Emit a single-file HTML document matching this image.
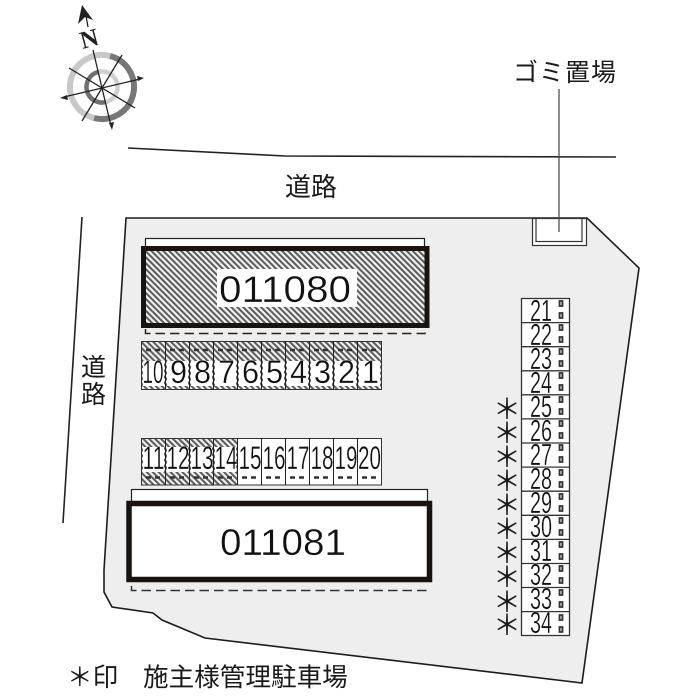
<!DOCTYPE html>
<html><head><meta charset="utf-8"><style>
html,body{margin:0;padding:0;background:#fff}
svg{display:block;filter:blur(.35px)}
.j{font-family:"Liberation Sans","Noto Sans CJK JP",sans-serif;fill:#1a1a1a}
.d{font-family:"Liberation Sans",sans-serif;fill:#111;stroke:#fff;stroke-width:.3}
</style></head><body>
<svg width="700" height="700" viewBox="0 0 700 700" xmlns="http://www.w3.org/2000/svg">
<defs>
<pattern id="h" width="4.2" height="4.2" patternUnits="userSpaceOnUse" patternTransform="rotate(-45)">
<rect width="4.2" height="4.2" fill="#f0f0f0"/><rect width="2" height="4.2" fill="#5a5a5a"/>
</pattern>
</defs>
<rect width="700" height="700" fill="#fff"/>
<!-- site -->
<polygon points="126,218 587,218 639,268 582,683 205,638 162,620 153,613 112,607 104,592 104,570" fill="#eeeeee" stroke="#1c1c1c" stroke-width="1.6"/>
<!-- roads -->
<polyline points="128,148 285,156 616,157" fill="none" stroke="#222" stroke-width="1.6"/>
<line x1="82" y1="217" x2="63" y2="523" stroke="#222" stroke-width="1.6"/>
<!-- garbage -->
<rect x="532.5" y="218.5" width="54" height="27" fill="#fff" stroke="#333" stroke-width="1.2"/>
<rect x="536" y="218.5" width="46" height="23" fill="#fff" stroke="#333" stroke-width="1.2"/>
<line x1="559" y1="89" x2="559" y2="232" stroke="#444" stroke-width="1.2"/>
<text class="j" x="513" y="81" font-size="25" letter-spacing="1">ゴミ置場</text>
<text class="j" x="285" y="196" font-size="26">道路</text>
<text class="j" x="81" y="376" font-size="25">道</text>
<text class="j" x="81" y="403" font-size="25">路</text>
<text class="j" x="67" y="686" font-size="25.6">＊印</text>
<text class="j" x="143" y="686" font-size="25.6">施主様管理駐車場</text>
<!-- compass -->
<g fill="none">
<path d="M110 56A32 32 0 0 1 94 118" stroke="#777" stroke-width="6"/>
<path d="M94 118A32 32 0 0 1 110 56" stroke="#c8c8c8" stroke-width="6"/>
<path d="M98 72A15.500 15.500 0 0 0 106 102" stroke="#707070" stroke-width="4.500"/>
<path d="M106 102A15.500 15.500 0 0 0 98 72" stroke="#d0d0d0" stroke-width="4.500"/>
<g stroke="#222" stroke-width="1.300">
<line x1="93" y1="50" x2="111" y2="126"/>
<line x1="64" y1="97" x2="140" y2="79"/>
<line x1="69" y1="68" x2="135" y2="108"/>
<line x1="82" y1="121" x2="122" y2="55"/>
<line x1="86" y1="16" x2="88" y2="27"/>
</g>
</g>
<polygon points="82,5 93,20 85,17 78,24" fill="#222"/>
<polygon points="112,130 109,123 114,122" fill="#222"/>
<polygon points="144,78 137,76 138,81" fill="#222"/>
<polygon points="60,98 67,95 68,100" fill="#222"/>
<text x="89" y="47" font-family="Liberation Serif,serif" font-weight="bold" font-size="25" fill="#222" text-anchor="middle" transform="rotate(-15 89 38)">N</text>
<!-- building 011080 -->
<rect x="145.5" y="238.5" width="279" height="10" fill="#fff" stroke="#222" stroke-width="1.2"/>
<rect x="143.5" y="248.5" width="283.5" height="77" fill="url(#h)" stroke="#1a1410" stroke-width="5"/>
<rect x="217" y="269" width="140" height="38" fill="#fff"/>
<text class="d" x="219" y="302" font-size="37" textLength="132" lengthAdjust="spacingAndGlyphs">011080</text>
<path d="M145.5 329V333.5H425V329" fill="none" stroke="#222" stroke-width="1.5" stroke-dasharray="9.500 5"/>
<!-- row 1 -->
<rect x="141.5" y="341.5" width="240" height="48" fill="url(#h)" stroke="#333" stroke-width="1"/>
<g fill="#fff">
<rect x="143" y="361" width="21" height="25"/><rect x="167" y="361" width="21" height="25"/><rect x="191" y="361" width="21" height="25"/><rect x="215" y="361" width="21" height="25"/><rect x="239" y="361" width="21" height="25"/><rect x="263" y="361" width="21" height="25"/><rect x="287" y="361" width="21" height="25"/><rect x="311" y="361" width="21" height="25"/><rect x="335" y="361" width="21" height="25"/><rect x="359" y="361" width="21" height="25"/>
</g>
<path d="M165.5 341V390M189.5 341V390M213.5 341V390M237.5 341V390M261.5 341V390M285.5 341V390M309.5 341V390M333.5 341V390M357.5 341V390" stroke="#222" stroke-width="1"/>
<path d="M146 350H160M170 350H184M194 350H208M218 350H232M242 350H256M266 350H280M290 350H304M314 350H328M338 350H352M362 350H376" stroke="#333" stroke-width="2.5" stroke-dasharray="5 4"/>
<g font-size="32">
<text class="d" x="142.500" y="383" textLength="21" lengthAdjust="spacingAndGlyphs">10</text>
<text class="d" x="170" y="383" textLength="17" lengthAdjust="spacingAndGlyphs">9</text>
<text class="d" x="194" y="383" textLength="17" lengthAdjust="spacingAndGlyphs">8</text>
<text class="d" x="218" y="383" textLength="17" lengthAdjust="spacingAndGlyphs">7</text>
<text class="d" x="242" y="383" textLength="17" lengthAdjust="spacingAndGlyphs">6</text>
<text class="d" x="266" y="383" textLength="17" lengthAdjust="spacingAndGlyphs">5</text>
<text class="d" x="290" y="383" textLength="17" lengthAdjust="spacingAndGlyphs">4</text>
<text class="d" x="314" y="383" textLength="17" lengthAdjust="spacingAndGlyphs">3</text>
<text class="d" x="338" y="383" textLength="17" lengthAdjust="spacingAndGlyphs">2</text>
<text class="d" x="362" y="383" textLength="17" lengthAdjust="spacingAndGlyphs">1</text>
</g>
<!-- row 2 -->
<rect x="141.5" y="438.5" width="240" height="46.500" fill="#fff" stroke="#333" stroke-width="1"/>
<rect x="142" y="439" width="96" height="45.500" fill="url(#h)"/>
<g fill="#fff">
<rect x="143" y="447" width="21" height="25"/><rect x="167" y="447" width="21" height="25"/><rect x="191" y="447" width="21" height="25"/><rect x="215" y="447" width="21" height="25"/>
</g>
<path d="M165.500 438V485M189.500 438V485M213.500 438V485M237.500 438V485M261.500 438V485M285.500 438V485M309.500 438V485M333.500 438V485M357.500 438V485" stroke="#222" stroke-width="1"/>
<path d="M146 477.500H160M170 477.500H184M194 477.500H208M218 477.500H232M242 477.500H256M266 477.500H280M290 477.500H304M314 477.500H328M338 477.500H352M362 477.500H376" stroke="#333" stroke-width="2.500" stroke-dasharray="5 4"/>
<g font-size="32">
<text class="d" x="142.500" y="469" textLength="22" lengthAdjust="spacingAndGlyphs">11</text>
<text class="d" x="166.500" y="469" textLength="23" lengthAdjust="spacingAndGlyphs">12</text>
<text class="d" x="190.500" y="469" textLength="23" lengthAdjust="spacingAndGlyphs">13</text>
<text class="d" x="214.500" y="469" textLength="23" lengthAdjust="spacingAndGlyphs">14</text>
<text class="d" x="238.500" y="469" textLength="23" lengthAdjust="spacingAndGlyphs">15</text>
<text class="d" x="262.500" y="469" textLength="23" lengthAdjust="spacingAndGlyphs">16</text>
<text class="d" x="286.500" y="469" textLength="23" lengthAdjust="spacingAndGlyphs">17</text>
<text class="d" x="310.500" y="469" textLength="23" lengthAdjust="spacingAndGlyphs">18</text>
<text class="d" x="334.500" y="469" textLength="23" lengthAdjust="spacingAndGlyphs">19</text>
<text class="d" x="358" y="469" textLength="23" lengthAdjust="spacingAndGlyphs">20</text>
</g>
<!-- building 011081 -->
<rect x="131.500" y="489.500" width="296" height="13" fill="#fff" stroke="#222" stroke-width="1.200"/>
<rect x="129" y="503.500" width="300.500" height="76" fill="#fff" stroke="#1a1410" stroke-width="5.500"/>
<text class="d" x="220" y="555" font-size="37" textLength="126" lengthAdjust="spacingAndGlyphs">011081</text>
<path d="M131.500 586V590.500H428" fill="none" stroke="#333" stroke-width="1.500" stroke-dasharray="9.500 5"/>
<!-- right column -->
<rect x="521.500" y="298.500" width="48" height="337" fill="#fff" stroke="#333" stroke-width="1.300"/>
<path d="M521 322.600H570M521 346.700H570M521 370.800H570M521 394.800H570M521 418.900H570M521 443H570M521 467.100H570M521 491.200H570M521 515.300H570M521 539.400H570M521 563.500H570M521 587.500H570M521 611.600H570" stroke="#333" stroke-width="1.300"/>
<g fill="#ddd" stroke="#333" stroke-width="1.800">
<path d="M559.500 301h3v5h-3zM559.500 313h3v5h-3zM559.500 325h3v5h-3zM559.500 337h3v5h-3zM559.500 349h3v5h-3zM559.500 361h3v5h-3zM559.500 373h3v5h-3zM559.500 385h3v5h-3zM559.500 397h3v5h-3zM559.500 409h3v5h-3zM559.500 421h3v5h-3zM559.500 433h3v5h-3zM559.500 445h3v5h-3zM559.500 457h3v5h-3zM559.500 470h3v5h-3zM559.500 482h3v5h-3zM559.500 494h3v5h-3zM559.500 506h3v5h-3zM559.500 518h3v5h-3zM559.500 530h3v5h-3zM559.500 542h3v5h-3zM559.500 554h3v5h-3zM559.500 566h3v5h-3zM559.500 578h3v5h-3zM559.500 590h3v5h-3zM559.500 602h3v5h-3zM559.500 615h3v5h-3zM559.500 627h3v5h-3z"/>
</g>
<g font-size="31">
<text class="d" x="530" y="321" textLength="22" lengthAdjust="spacingAndGlyphs">21</text>
<text class="d" x="530" y="345" textLength="22" lengthAdjust="spacingAndGlyphs">22</text>
<text class="d" x="530" y="369" textLength="22" lengthAdjust="spacingAndGlyphs">23</text>
<text class="d" x="530" y="393" textLength="22" lengthAdjust="spacingAndGlyphs">24</text>
<text class="d" x="530" y="417" textLength="22" lengthAdjust="spacingAndGlyphs">25</text>
<text class="d" x="530" y="441" textLength="22" lengthAdjust="spacingAndGlyphs">26</text>
<text class="d" x="530" y="465" textLength="22" lengthAdjust="spacingAndGlyphs">27</text>
<text class="d" x="530" y="489" textLength="22" lengthAdjust="spacingAndGlyphs">28</text>
<text class="d" x="530" y="513" textLength="22" lengthAdjust="spacingAndGlyphs">29</text>
<text class="d" x="530" y="537" textLength="22" lengthAdjust="spacingAndGlyphs">30</text>
<text class="d" x="530" y="561" textLength="22" lengthAdjust="spacingAndGlyphs">31</text>
<text class="d" x="530" y="585" textLength="22" lengthAdjust="spacingAndGlyphs">32</text>
<text class="d" x="530" y="609" textLength="22" lengthAdjust="spacingAndGlyphs">33</text>
<text class="d" x="530" y="633" textLength="22" lengthAdjust="spacingAndGlyphs">34</text>
</g>
<g font-size="28" text-anchor="middle">
<text class="j" x="507" y="419">＊</text>
<text class="j" x="507" y="443">＊</text>
<text class="j" x="507" y="467">＊</text>
<text class="j" x="507" y="491">＊</text>
<text class="j" x="507" y="515">＊</text>
<text class="j" x="507" y="539">＊</text>
<text class="j" x="507" y="563">＊</text>
<text class="j" x="507" y="587">＊</text>
<text class="j" x="507" y="612">＊</text>
<text class="j" x="507" y="635">＊</text>
</g>
</svg>
</body></html>
